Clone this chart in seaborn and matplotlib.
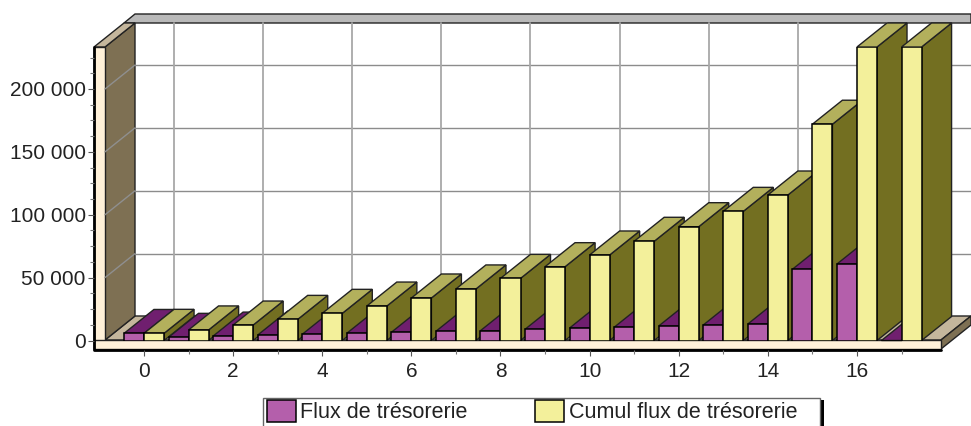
import matplotlib
matplotlib.use("Agg")
import matplotlib.pyplot as plt
from matplotlib.patches import Polygon, Rectangle
import seaborn as sns
import pandas as pd
import numpy as np

periods = list(range(18))
flux = [5600, 2500, 3500, 4300, 4900, 5700, 6500, 7300, 7800, 8900,
        9900, 10500, 11500, 12300, 13100, 56600, 60800, 0]
cumul = [5700, 8400, 12300, 16800, 21600, 27400, 33800, 41000, 49400, 58700,
         68000, 78900, 90500, 102700, 115700, 172000, 233400, 233400]
series_names = ["Flux de trésorerie", "Cumul flux de trésorerie"]

front_colors = ["#b45fab", "#f3f09b"]
top_colors = ["#701f6f", "#b3b05c"]
side_colors = ["#701f6f", "#736f21"]

W, H = 971, 426
DX, DY = 30, 24  # depth of the 3d look, in pixels
X0, XSTEP = 144, 44.56  # pixel of x=0, pixels per period
Y0, YSCALE = 340.5, 251.5 / 200000
LEFT, RIGHT, TOP = 94, 941, 47

df = pd.DataFrame({
    "period": periods * 2,
    "value": flux + cumul,
    "serie": [series_names[0]] * 18 + [series_names[1]] * 18,
})

sns.set_style("white")
plt.rcParams["font.family"] = ["Liberation Sans", "DejaVu Sans"]
fig = plt.figure(figsize=(W / 100, H / 100), dpi=100)

# background axes in pixels for the box around the chart
bg = fig.add_axes([0, 0, 1, 1], zorder=0)
bg.set_xlim(0, W)
bg.set_ylim(H, 0)
bg.axis("off")


def poly(pts, color, lw=1.0, edge="#222222"):
    bg.add_patch(Polygon(pts, closed=True, facecolor=color, edgecolor=edge, linewidth=lw))


# back wall grid, floor, left wall, top band
for v in [50000, 100000, 150000, 200000]:
    y = Y0 - v * YSCALE
    bg.plot([135, W], [y - DY, y - DY], color="#8c8c8c", lw=1.0)
for p in periods:
    if p % 2 == 0:
        x = X0 + p * XSTEP + DX
        bg.plot([x, x], [23, 316], color="#a8a8a8", lw=1.3)
poly([(124, 23), (135, 14), (W, 14), (W, 23)], "#b9b9b9")
poly([(105, 340), (941, 340), (W, 316), (135, 316)], "#c4b69c")
poly([(105, TOP), (135, 23), (135, 316), (105, 340)], "#7e7053")
for v in [50000, 100000, 150000, 200000]:
    y = Y0 - v * YSCALE
    bg.plot([105, 135], [y, y - DY], color="#8f8f8f", lw=1)
poly([(94, TOP), (105, TOP), (135, 23), (124, 23)], "#c4b69c")
poly([(94, TOP), (105, TOP), (105, 349), (94, 349)], "#fff1d9")
poly([(941, 340), (W, 316), (W, 325), (941, 349)], "#7e7053")
poly([(94, 340), (941, 340), (941, 349), (94, 349)], "#fff1d9")
bg.plot([94, 94, 941], [TOP, 349.5, 349.5], color="black", lw=2)

ax = fig.add_axes([LEFT / W, 1 - Y0 / H, (RIGHT - LEFT) / W, (Y0 - TOP) / H], zorder=1)
ax.patch.set_alpha(0)
sns.barplot(data=df, x="period", y="value", hue="serie", native_scale=True,
            palette=front_colors, saturation=1, width=0.9, gap=0,
            edgecolor="black", linewidth=1.1, zorder=3, ax=ax)
ax.set_xlim((LEFT - X0) / XSTEP, (RIGHT - X0) / XSTEP)
ax.set_ylim(0, (Y0 - TOP) / YSCALE)

# side and top faces, drawn left to right from the bars seaborn made
ddx = DX / XSTEP
ddy = DY / YSCALE
for i, cont in enumerate(ax.containers):
    for j, bar in enumerate(cont):
        l, r = bar.get_x(), bar.get_x() + bar.get_width()
        h = bar.get_height()
        z = 2 + (j * 2 + i) * 0.0001
        ax.add_patch(Polygon([(r, 0), (r + ddx, ddy), (r + ddx, h + ddy), (r, h)],
                             facecolor=side_colors[i], edgecolor="#222222", lw=1,
                             clip_on=False, zorder=z))
        ax.add_patch(Polygon([(l, h), (l + ddx, h + ddy), (r + ddx, h + ddy), (r, h)],
                             facecolor=top_colors[i], edgecolor="#222222", lw=1,
                             clip_on=False, zorder=z))

for s in ax.spines.values():
    s.set_visible(False)
ax.spines["bottom"].set_position(("outward", 6.5))
ax.set_xlabel("")
ax.set_ylabel("")
ax.set_xticks(periods[::2])
ax.set_xticks(periods[1::2], minor=True)
ax.set_yticks([0, 50000, 100000, 150000, 200000])
ax.set_yticks(np.arange(12500, 233400, 12500), minor=True)
ax.set_yticklabels(["0", "50 000", "100 000", "150 000", "200 000"])
ax.tick_params(axis="both", which="major", length=4, width=0.8, color="#555555",
               labelsize=15, labelcolor="#222222", left=True, bottom=True)
ax.tick_params(axis="both", which="minor", length=3, width=0.8, color="#777777",
               left=True, bottom=True)
ax.tick_params(axis="x", which="major", pad=5)
ax.tick_params(axis="y", which="major", pad=2)

# legend, its box runs off the bottom of the picture like in the original
bg.add_patch(Rectangle((820, 400), 4, 30, facecolor="black", edgecolor="none"))
bg.add_patch(Rectangle((262.5, 397.5), 557, 40, facecolor="white", edgecolor="#666666", linewidth=1))
handles, labels = ax.get_legend_handles_labels()
leg = ax.legend(handles, labels, ncol=2, loc="upper left",
                bbox_to_anchor=(266.8 / W, 1 - 400 / H), bbox_transform=fig.transFigure,
                frameon=False, fontsize=15.5, handlelength=1.34, handleheight=1.16,
                handletextpad=0.2, columnspacing=3.16, borderpad=0, borderaxespad=0,
                labelcolor="#222222")

fig.savefig("out.png", dpi=100)
